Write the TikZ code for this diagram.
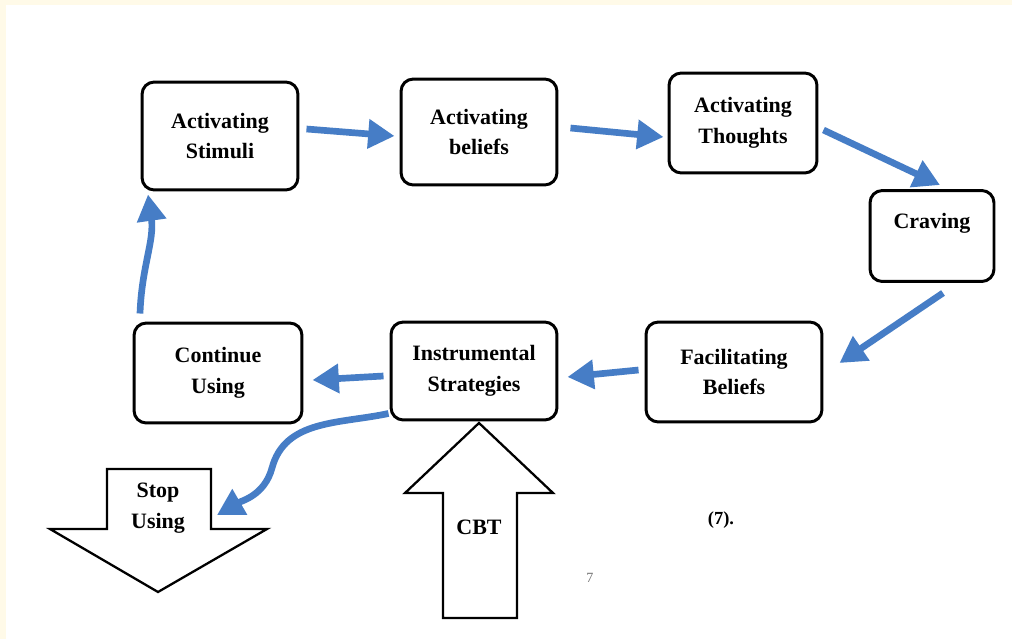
\documentclass[tikz,border=0pt]{standalone}
\usepackage{fontspec}
\setmainfont{Liberation Serif}
\usetikzlibrary{positioning,calc,arrows.meta}

\definecolor{cream}{RGB}{255,250,232}
\definecolor{flowblue}{RGB}{70,125,198}

\tikzset{
  stage/.style={draw=black, line width=1.7pt, rounded corners=7pt, fill=white,
    align=center, font=\fontsize{12.5}{17.5}\selectfont\bfseries, inner sep=2pt},
  flow/.style={draw=flowblue, line width=3.8pt, -{Triangle[length=15pt,width=16pt]}},
  bigarrow/.style={draw=black, line width=1.3pt, fill=white, line join=miter},
  plain/.style={align=center, font=\fontsize{12.5}{17.5}\selectfont\bfseries},
}

\begin{document}
\begin{tikzpicture}[x=0.02cm, y=-0.02cm]
\fill[cream] (0,0) rectangle (1012,639);
\fill[white] (6,5) rectangle (1012,639);
\useasboundingbox (0,0) rectangle (1012,639);

% block arrows
\draw[bigarrow] (107,469) -- (211,469) -- (211,529) -- (267,529) -- (158,592)
  -- (50,529) -- (107,529) -- cycle;
\draw[bigarrow] (443,618) -- (517,618) -- (517,493) -- (553,493) -- (479,423)
  -- (405,493) -- (443,493) -- cycle;
\node[plain] (stop) at (158,508) {Stop\\Using};
\node[plain] (cbt) at (479,527) {CBT};

% the cycle
\node[stage, minimum width=3.12cm, minimum height=2.16cm] (stim) at (220,136) {Activating\\Stimuli};
\node[stage, minimum width=3.12cm, minimum height=2.12cm] (bel) at (479,132) {Activating\\beliefs};
\node[stage, minimum width=2.96cm, minimum height=2cm] (tho) at (743,123) {Activating\\Thoughts};
\node[stage, minimum width=2.48cm, minimum height=1.82cm] (crav) at (932,236) {Craving\\ \mbox{}};
\node[stage, minimum width=3.52cm, minimum height=2cm] (fac) at (734,372) {Facilitating\\Beliefs};
\node[stage, minimum width=3.32cm, minimum height=1.96cm] (ins) at (474,371) {Instrumental\\Strategies};
\node[stage, minimum width=3.36cm, minimum height=2cm] (cont) at (218,373) {Continue\\Using};

\coordinate (stopin) at (217,515);

\draw[flow] ($(stim.east)+(7,-7)$) -- ($(bel.west)+(-5,4)$);
\draw[flow] ($(bel.east)+(12,-4)$) -- ($(tho.west)+(-4,14)$);
\draw[flow] ($(tho.east)+(5,7)$) -- ($(crav.north)+(8,-4)$);
\draw[flow] ($(crav.south)+(11,10)$) -- ($(fac.east)+(16,-9)$);
\draw[flow] ($(fac.west)+(-6,-2)$) -- ($(ins.east)+(9,6)$);
\draw[flow] ($(ins.west)+(-6,5)$) -- ($(cont.east)+(9,7)$);
\draw[flow] ($(cont.north)+(-78,-8)$) to [out=88, in=-82] ($(stim.south)+(-72,3)$);
\draw[flow] ($(ins.south west)+(-1,-8)$) to [out=192, in=75] (272,468)
  to [out=-105, in=30] (stopin);

\node[font=\fontsize{10.5}{12}\selectfont\bfseries] (ref) at (721,520) {(7).};
\node[font=\fontsize{8}{9}\selectfont, text=black!55] (pg) at (590,578) {7};

\end{tikzpicture}
\end{document}
